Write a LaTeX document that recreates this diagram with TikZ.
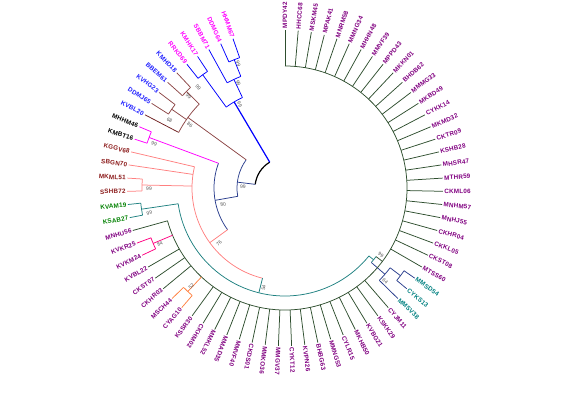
\documentclass[tikz,border=0pt]{standalone}
\usepackage{fontspec}
\setmainfont{Liberation Sans}
\newfontfamily\labfont[LetterSpace=3]{Liberation Sans}
\usepackage{tikz}

\definecolor{lpur}{HTML}{800080}
\definecolor{lmag}{HTML}{FF00FF}
\definecolor{lblue}{HTML}{1E1EFF}
\definecolor{dred}{HTML}{8B1A1A}
\definecolor{lgreen}{HTML}{008000}
\definecolor{lteal}{HTML}{008080}
\definecolor{cring}{HTML}{2E4E2E}
\definecolor{cblue}{HTML}{0000FF}
\definecolor{cbrn}{HTML}{8C4646}
\definecolor{cdbrn}{HTML}{6E1E1E}
\definecolor{cnavy}{HTML}{283C8C}
\definecolor{cmag}{HTML}{FF00FF}
\definecolor{csalm}{HTML}{FF8080}
\definecolor{cteal}{HTML}{1E8080}
\definecolor{corng}{HTML}{FF8040}
\definecolor{cpkr}{HTML}{FF0080}

\newcommand{\bow}[4]{\draw[#1] (#2:#4) arc[start angle=#2,end angle=#3,radius=#4pt];}
\newcommand{\twig}[5]{\coordinate (#2b) at (#3:#4); \coordinate (#2) at (#3:#5); \draw[#1] (#2b) -- (#2);}
\newcommand{\bsnum}[3]{\pgfmathsetmacro\bsrot{(#1<90)?#1:#1-180}\node[bs,rotate=\bsrot] at (#1:#2) {#3};}

\begin{document}
\begin{tikzpicture}[x=1pt,y=1pt,line width=0.75pt,
  lab/.style={font=\labfont\bfseries\fontsize{6.3}{7}\selectfont,inner sep=1.2pt},
  bs/.style={font=\fontsize{5}{5}\selectfont,text=black!65,inner sep=0pt}]
\useasboundingbox (-285,-206) rectangle (285,188);

\foreach \i/\nm/\lc/\ec/\pr in {
  1/MPDY42/lpur/cring/122, 2/HHCC68/lpur/cring/122, 3/MSKM45/lpur/cring/122,
  4/MPAK41/lpur/cring/122, 5/MNRM58/lpur/cring/122, 6/MMNG34/lpur/cring/122,
  7/MHHN48/lpur/cring/122, 8/MMVF39/lpur/cring/122, 9/MPPD43/lpur/cring/122,
  10/MKKN01/lpur/cring/122, 11/BHDB62/lpur/cring/122, 12/MMMG33/lpur/cring/122,
  13/MKBD49/lpur/cring/122, 14/CYKK14/lpur/cring/122, 15/MKMD32/lpur/cring/122,
  16/CKTR09/lpur/cring/122, 17/KSHB28/lpur/cring/122, 18/MHSR47/lpur/cring/122,
  19/MTHR59/lpur/cring/122, 20/CKML06/lpur/cring/122, 21/MNHM57/lpur/cring/122,
  22/MNHJ55/lpur/cring/122, 23/CKHR04/lpur/cring/122, 24/CKKL05/lpur/cring/122,
  25/CKST08/lpur/cring/122, 26/MTSS60/lpur/cring/122,
  27/MMSD54/lteal/cnavy/145, 28/CYKS13/lteal/cnavy/145, 29/MMSV38/lteal/cnavy/132,
  30/CYJM11/lpur/cring/122, 31/KSKK29/lpur/cring/122, 32/KVBG21/lpur/cring/122,
  33/MKHB50/lpur/cring/122, 34/CYLR15/lpur/cring/122, 35/MMNG53/lpur/cring/122,
  36/BHBG63/lpur/cring/122, 37/KVPN26/lpur/cring/122, 38/CYKT12/lpur/cring/122,
  39/MMGV37/lpur/cring/122, 40/MMKO36/lpur/cring/122, 41/CKDS01/lpur/cring/122,
  42/MMVF40/lpur/cring/122, 43/MMAD35/lpur/cring/122, 44/MMKL52/lpur/cring/122,
  45/CKHM02/lpur/cring/122, 46/KSSR30/lpur/cring/122,
  47/CYAG10/lpur/corng/142, 48/MSCH44/lpur/corng/142,
  49/CKHR03/lpur/cring/122, 50/CKST07/lpur/cring/122, 51/KVBL22/lpur/cring/122,
  52/KVKM24/lpur/cpkr/143, 53/KVKR25/lpur/cpkr/143, 54/MNHU56/lpur/cring/122,
  55/KSAB27/lgreen/cteal/145, 56/KVAM19/lgreen/cteal/145,
  57/SSHB72/dred/csalm/143, 58/MKML51/dred/csalm/143,
  59/SBGN70/dred/csalm/93, 60/KGGV68/dred/csalm/93,
  61/KMBT16/black/cmag/145, 62/MHHM46/black/cmag/145,
  63/KVBL20/lblue/cdbrn/120, 64/DDMJ65/lblue/cbrn/138, 65/KVHG23/lblue/cbrn/138,
  66/BBEM61/lblue/cbrn/138, 67/KMHD18/lblue/cbrn/138,
  68/RRKD69/lmag/cblue/140, 69/KMHK17/lmag/cblue/140, 70/SBBM71/lmag/cblue/120,
  71/DDMG64/lmag/cblue/138, 72/HHMM67/lmag/cblue/138}{
  \pgfmathsetmacro\a{90-(\i-1)*4.8}
  \coordinate (b\i) at (\a:\pr);
  \coordinate (t\i) at (\a:158);
  \draw[\ec] (b\i) -- (t\i);
  \ifnum\i<46
    \node[lab,text=\lc,anchor=west,rotate=\a] (l\i) at (t\i) {\nm};
  \else
    \node[lab,text=\lc,anchor=east,rotate=\a+180] (l\i) at (t\i) {\nm};
  \fi
}

\bow{black,line width=1.2pt}{120.6}{173}{30}
\twig{cblue,line width=1.2pt}{nA}{120.6}{30}{100}
\bow{cblue}{115.2}{126}{100}
\twig{cblue}{nA1}{115.2}{100}{120}
\bow{cblue}{111.6}{118.8}{120}
\twig{cblue}{nA2}{111.6}{120}{138}
\bow{cblue}{109.2}{114}{138}
\twig{cblue}{nB}{126}{100}{140}
\bow{cblue}{123.6}{128.4}{140}

\twig{cnavy}{nC}{173}{30}{48}
\bow{cnavy}{144}{190}{48}
\twig{cbrn}{nBR}{144}{48}{120}
\bow{cbrn}{135.6}{152.4}{120}
\twig{cbrn}{nBR1}{135.6}{120}{138}
\bow{cbrn}{133.2}{138}{138}
\twig{cbrn}{nBR2}{145.2}{120}{138}
\bow{cbrn}{142.8}{147.6}{138}

\twig{cnavy}{nD}{190}{48}{71}
\bow{cnavy}{159.6}{216}{71}
\twig{cmag}{nM}{159.6}{71}{145}
\bow{cmag}{157.2}{162}{145}
\twig{csalm}{nE}{216}{71}{93}
\bow{csalm}{166.8}{256}{93}
\twig{csalm}{nS}{178.8}{93}{143}
\bow{csalm}{176.4}{181.2}{143}

\twig{cteal}{nT}{256}{93}{108}
\bow{cteal}{188.4}{321}{108}
\twig{cteal}{nG}{188.4}{108}{145}
\bow{cteal}{186}{190.8}{145}
\twig{cteal}{nP}{321}{108}{114}
\bow{cteal}{319.2}{323}{114}
\twig{cnavy}{nQ}{319.2}{114}{132}
\bow{cnavy}{315.6}{322.8}{132}
\twig{cnavy}{nQ2}{322.8}{132}{145}
\bow{cnavy}{320.4}{325.2}{145}

\twig{cring}{nR}{323}{114}{122}
\bow{cring}{-164.4}{90}{122}
\twig{corng}{nO}{-133.2}{122}{142}
\bow{corng}{-135.6}{-130.8}{142}
\twig{cpkr}{nK}{-157.2}{122}{143}
\bow{cpkr}{-159.6}{-154.8}{143}

\bsnum{110.6}{133}{99}
\bsnum{114}{115}{99}
\bsnum{118.5}{95}{99}
\bsnum{130.7}{133}{99}
\bsnum{136.5}{133}{99}
\bsnum{149.5}{134}{68}
\bsnum{146.5}{114}{86}
\bsnum{161.5}{138}{99}
\bsnum{180.5}{136}{99}
\bsnum{190.5}{138}{99}
\bsnum{204}{137}{84}
\bsnum{226.5}{136}{52}
\bsnum{179}{42}{99}
\bsnum{195}{64}{80}
\bsnum{220}{86}{76}
\bsnum{258}{102}{54}
\bsnum{-35}{117}{99}
\bsnum{-43}{137}{64}
\end{tikzpicture}
\end{document}
